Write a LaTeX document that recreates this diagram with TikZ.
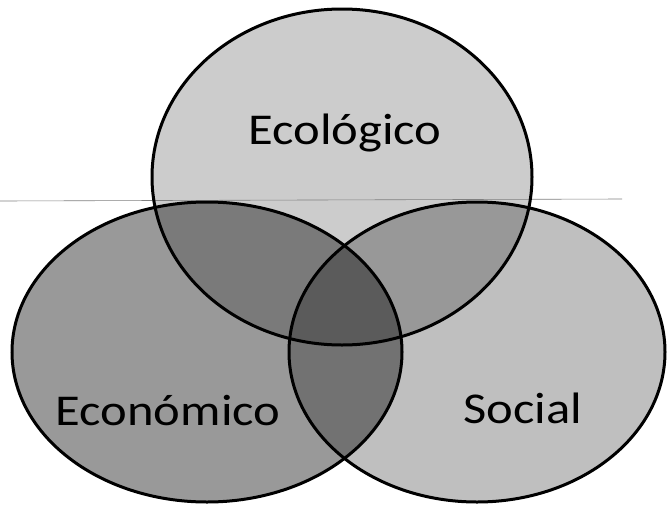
\documentclass[tikz,border=0pt]{standalone}
\usepackage{fontspec}
\setmainfont{Carlito}
\begin{document}
\begin{tikzpicture}[x=1pt,y=-1pt,
    ring/.style={line width=3pt},
    word/.style={font=\fontsize{44}{50}\selectfont, xscale=1.15}]
  \useasboundingbox (0,0) rectangle (667,504);
  \fill[white] (0,0) rectangle (667,504);

    % shading of the three sets
    \foreach \cx/\cy/\rx/\ry/\op in {342/177/190/168/0.2, 207/352/195/150/0.4, 477/352/188/150/0.25} {
      \fill[black, fill opacity=\op] (\cx,\cy) ellipse [x radius=\rx, y radius=\ry];
    }

    % fold of the page
    \coordinate (foldL) at (0,201);
    \coordinate (foldR) at (622,199);
    \draw[gray, line width=0.6pt] (foldL) -- (foldR);

    \foreach \cx/\cy/\rx/\ry in {342/177/190/168, 207/352/195/150, 477/352/188/150} {
      \draw[ring] (\cx,\cy) ellipse [x radius=\rx, y radius=\ry];
    }

    \node[word] (eco) at (345,133) {Ecológico};
    \node[word] (econ) at (168,411) {Económico};
    \node[word] (soc) at (523,408) {Social};

  \end{tikzpicture}
\end{document}
